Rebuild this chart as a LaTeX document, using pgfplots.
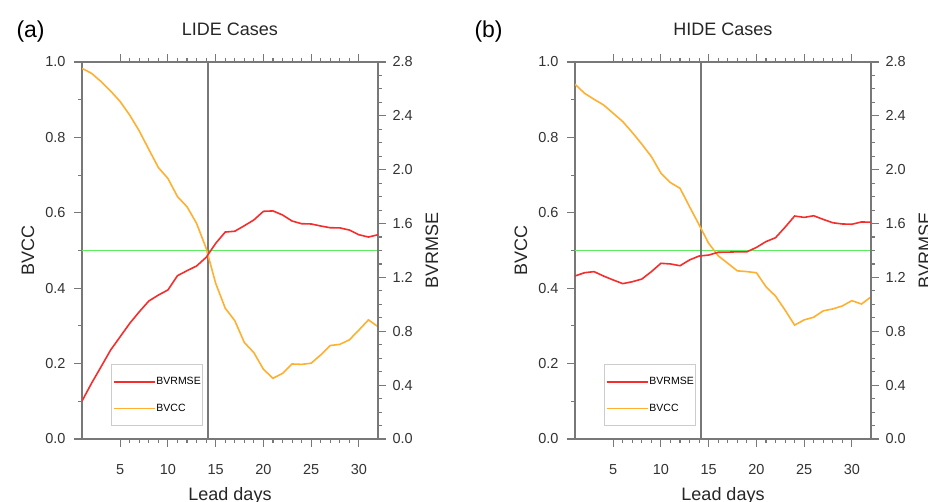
\documentclass[border=0pt]{standalone}
\usepackage{fontspec}
\setmainfont{Liberation Sans}
\usepackage{pgfplots}
\pgfplotsset{compat=1.18}

\definecolor{axgray}{RGB}{120,120,120}
\definecolor{rmsered}{RGB}{245,45,45}
\definecolor{ccorange}{RGB}{255,176,48}
\definecolor{refgreen}{RGB}{95,235,95}

% shared look of both panels
\pgfplotsset{
  base/.style={
    scale only axis, width=296pt, height=377pt,
    anchor=south west,
    xmin=1, xmax=32,
    tick align=outside,
    major tick length=8pt, minor tick length=4pt,
    axis line style={axgray, line width=1.4pt},
    every tick/.style={axgray, line width=1.1pt},
    ticklabel style={font=\fontsize{14.5}{16}\selectfont, text=black!80},
    /pgf/number format/assume math mode=true,
    label style={font=\fontsize{18}{20}\selectfont, text=black!85},
    title style={font=\fontsize{18}{20}\selectfont, text=black!85,
      at={(axis description cs:0.5,1.0557)}, anchor=base},
  },
  leftax/.style={base,
    ymin=0, ymax=1,
    xtick={5,10,15,20,25,30}, minor x tick num=4, xtick pos=both,
    xticklabel style={yshift=-14pt},
    ytick={0,0.2,0.4,0.6,0.8,1}, minor y tick num=1, ytick pos=left,
    yticklabel style={xshift=-5pt},
    yticklabel={\pgfmathprintnumber[fixed, fixed zerofill, precision=1]{\tick}},
    ylabel={BVCC},
    ylabel style={at={(axis description cs:-0.1824,0.5)}, anchor=center},
    xlabel={Lead days},
    xlabel style={at={(axis description cs:0.5,-0.1618)}, anchor=base},
  },
  rightax/.style={base,
    ymin=0, ymax=2.8,
    hide x axis,
    axis y line*=right,
    ytick={0,0.4,0.8,1.2,1.6,2.0,2.4,2.8}, minor y tick num=3,
    yticklabel style={xshift=3pt},
    yticklabel={\pgfmathprintnumber[fixed, fixed zerofill, precision=1]{\tick}},
    ylabel={BVRMSE},
    ylabel style={at={(axis description cs:1.1824,0.5)}, anchor=center},
    legend style={at={(axis description cs:0.098,0.034)}, anchor=south west,
      draw=black!20, line width=0.8pt, fill=white,
      font=\fontsize{10.5}{12}\selectfont,
      inner xsep=2pt, inner ysep=12pt, row sep=16pt,
      nodes={inner xsep=0pt, inner ysep=1pt}},
    legend cell align=left,
    legend image code/.code={\draw[#1] (0pt,0pt) -- (41pt,0pt);},
  },
  cc/.style={ccorange, line width=1.6pt},
  rmse/.style={rmsered, line width=1.6pt},
}

\begin{document}
\begin{tikzpicture}

% ---------------- (a) LIDE ----------------
\begin{axis}[leftax, at={(82pt,62pt)}, title={LIDE Cases}]
\addplot[refgreen, line width=1.2pt] coordinates {(1,0.5) (32,0.5)};
\addplot[axgray, line width=1.4pt] coordinates {(14.2,0) (14.2,1)};
\addplot[cc] table {
x y
1 0.983
2 0.970
3 0.948
4 0.923
5 0.895
6 0.859
7 0.817
8 0.768
9 0.720
10 0.691
11 0.643
12 0.616
13 0.572
14 0.506
15 0.413
16 0.347
17 0.314
18 0.256
19 0.229
20 0.185
21 0.161
22 0.174
23 0.199
24 0.198
25 0.201
26 0.223
27 0.248
28 0.251
29 0.263
30 0.289
31 0.316
32 0.298
};
\end{axis}
\begin{axis}[rightax, at={(82pt,62pt)}]
\addplot[rmse, forget plot] table {
x y
1 0.282
2 0.414
3 0.537
4 0.661
5 0.760
6 0.859
7 0.945
8 1.025
9 1.069
10 1.107
11 1.213
12 1.250
13 1.285
14 1.349
15 1.453
16 1.537
17 1.543
18 1.584
19 1.627
20 1.691
21 1.694
22 1.664
23 1.619
24 1.599
25 1.597
26 1.582
27 1.569
28 1.568
29 1.552
30 1.517
31 1.500
32 1.517
};
\addlegendimage{rmsered, line width=2pt}
\addlegendentry{BVRMSE}
\addlegendimage{cc}
\addlegendentry{BVCC}
\end{axis}

% ---------------- (b) HIDE ----------------
\begin{axis}[leftax, at={(575pt,62pt)}, title={HIDE Cases}]
\addplot[refgreen, line width=1.2pt] coordinates {(1,0.5) (32,0.5)};
\addplot[axgray, line width=1.4pt] coordinates {(14.2,0) (14.2,1)};
\addplot[cc] table {
x y
1 0.941
2 0.917
3 0.901
4 0.886
5 0.864
6 0.842
7 0.813
8 0.782
9 0.749
10 0.705
11 0.680
12 0.665
13 0.616
14 0.568
15 0.519
16 0.486
17 0.466
18 0.446
19 0.444
20 0.441
21 0.404
22 0.379
23 0.342
24 0.302
25 0.316
26 0.323
27 0.340
28 0.345
29 0.353
30 0.367
31 0.358
32 0.377
};
\end{axis}
\begin{axis}[rightax, at={(575pt,62pt)}]
\addplot[rmse, forget plot] table {
x y
1 1.211
2 1.235
3 1.243
4 1.210
5 1.181
6 1.154
7 1.168
8 1.188
9 1.243
10 1.305
11 1.300
12 1.287
13 1.330
14 1.359
15 1.366
16 1.387
17 1.388
18 1.390
19 1.390
20 1.423
21 1.466
22 1.495
23 1.573
24 1.656
25 1.646
26 1.658
27 1.631
28 1.606
29 1.597
30 1.595
31 1.612
32 1.610
};
\addlegendimage{rmsered, line width=2pt}
\addlegendentry{BVRMSE}
\addlegendimage{cc}
\addlegendentry{BVCC}
\end{axis}

\node[anchor=base west, font=\fontsize{23}{25}\selectfont] at (13pt,463pt) {(a)};
\node[anchor=base west, font=\fontsize{23}{25}\selectfont] at (471pt,463pt) {(b)};

\pgfresetboundingbox
\path[use as bounding box] (0pt,0pt) rectangle (928pt,501pt);
\end{tikzpicture}
\end{document}
